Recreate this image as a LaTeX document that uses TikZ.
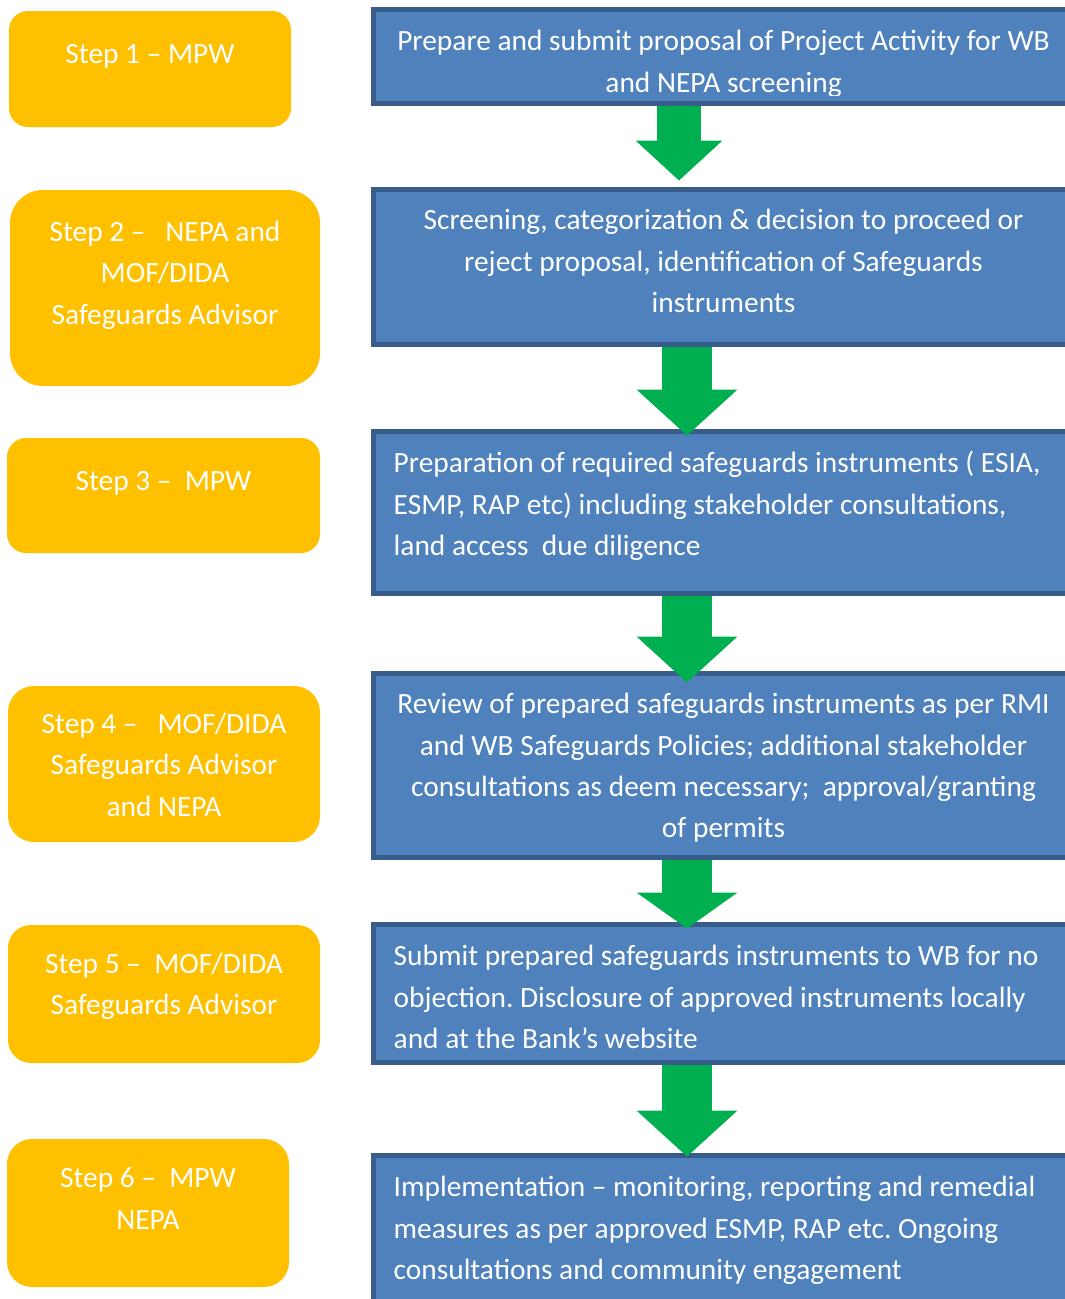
\documentclass[tikz,border=0pt]{standalone}
\usepackage{fontspec}
\setmainfont{Carlito}
\usetikzlibrary{arrows.meta}
\frenchspacing

\definecolor{stepyellow}{HTML}{FFC000}
\definecolor{boxblue}{HTML}{4F81BD}
\definecolor{boxedge}{HTML}{385D8A}
\definecolor{flowgreen}{HTML}{00B050}

\begin{document}
\begin{tikzpicture}[x=1pt,y=-1pt,font=\fontsize{29.4}{41.4}\selectfont,
    stepbox/.style={fill=stepyellow,inner sep=0pt},
    taskbox/.style={draw=boxedge,fill=boxblue,line width=5pt,inner sep=0pt,
                    minimum width=700pt},
    boxtext/.style={text=white,inner sep=0pt,anchor=north,align=center,
                    execute at begin node=\strut},
    lefttext/.style={boxtext,anchor=north west,align=left},
    flow/.style={draw=flowgreen,line width=50pt,
                 -{Triangle[width=101pt,length=46pt,line width=0pt]}}]

  \useasboundingbox (0,0) rectangle (1065,1299);

  % who does it
  \node[stepbox,minimum width=282pt,minimum height=116pt,rounded corners=19pt] (s1) at (150,69) {};
  \node[stepbox,minimum width=310pt,minimum height=196pt,rounded corners=33pt] (s2) at (165,288) {};
  \node[stepbox,minimum width=313pt,minimum height=115pt,rounded corners=19pt] (s3) at (163.5,495.5) {};
  \node[stepbox,minimum width=312pt,minimum height=156pt,rounded corners=26pt] (s4) at (164,764) {};
  \node[stepbox,minimum width=312pt,minimum height=138pt,rounded corners=23pt] (s5) at (164,994) {};
  \node[stepbox,minimum width=282pt,minimum height=148pt,rounded corners=25pt] (s6) at (148,1213) {};

  \node[boxtext] (s1t) at ([yshift=-24pt]s1.north) {Step 1 – MPW};
  \node[boxtext] (s2t) at ([yshift=-31pt]s2.north) {Step 2 –\ \ \ NEPA and\\MOF/DIDA\\Safeguards Advisor};
  \node[boxtext] (s3t) at ([yshift=-24pt]s3.north) {Step 3 –\ \ MPW};
  \node[boxtext] (s4t) at ([yshift=-27pt]s4.north) {Step 4 –\ \ \ MOF/DIDA\\Safeguards Advisor\\and NEPA};
  \node[boxtext] (s5t) at ([yshift=-28pt]s5.north) {Step 5 –\ \ MOF/DIDA\\Safeguards Advisor};
  \node[boxtext] (s6t) at ([yshift=-29pt]s6.north) {Step 6 –\ \ MPW\\NEPA};

  % what is done
  \node[taskbox,minimum height=94pt]  (t1) at (723.5,56.5) {};
  \node[taskbox,minimum height=155pt] (t2) at (723.5,267) {};
  \node[taskbox,minimum height=162pt] (t3) at (723.5,512.5) {};
  \node[taskbox,minimum height=184pt] (t4) at (723.5,765.5) {};
  \node[taskbox,minimum height=138pt] (t5) at (723.5,993.5) {};
  \node[taskbox,minimum height=182pt] (t6) at (723.5,1246.5) {};

  \begin{scope}
    \clip (t1.north west) rectangle ([yshift=11pt]t1.south east);
    \node[boxtext] (t1t) at ([yshift=-23pt]t1.north)
      {Prepare and submit proposal of Project Activity for WB\\and NEPA screening};
  \end{scope}
  \node[boxtext] (t2t) at ([yshift=-22pt]t2.north)
    {Screening, categorization \& decision to proceed or\\reject proposal, identification of Safeguards\\instruments};
  \node[lefttext] (t3t) at ([xshift=22.5pt,yshift=-22pt]t3.north west)
    {Preparation of required safeguards instruments ( ESIA,\\ESMP, RAP etc) including stakeholder consultations,\\land access\ \ due diligence};
  \node[boxtext] (t4t) at ([yshift=-22pt]t4.north)
    {Review of prepared safeguards instruments as per RMI\\and WB Safeguards Policies; additional stakeholder\\consultations as deem necessary;\ \ approval/granting\\of permits};
  \node[lefttext] (t5t) at ([xshift=22.5pt,yshift=-23pt]t5.north west)
    {Submit prepared safeguards instruments to WB for no\\objection. Disclosure of approved instruments locally\\and at the Bank’s website};
  \node[lefttext] (t6t) at ([xshift=22.5pt,yshift=-23pt]t6.north west)
    {Implementation – monitoring, reporting and remedial\\measures as per approved ESMP, RAP etc. Ongoing\\consultations and community engagement};

  % green arrows between the boxes
  \draw[flow,line width=44pt,-{Triangle[width=87pt,length=40pt,line width=0pt]}]
    ([xshift=-44.5pt]t1.south) -- ([xshift=-44.5pt,yshift=6.5pt]t2.north);
  \draw[flow] ([xshift=-36.5pt]t2.south) -- ([xshift=-36.5pt,yshift=-6.5pt]t3.north);
  \draw[flow] ([xshift=-36.5pt]t3.south) -- ([xshift=-36.5pt,yshift=-11.5pt]t4.north);
  \draw[flow,-{Triangle[width=101pt,length=36pt,line width=0pt]}]
    ([xshift=-36.5pt]t4.south) -- ([xshift=-36.5pt,yshift=-6.5pt]t5.north);
  \draw[flow] ([xshift=-36.5pt]t5.south) -- ([xshift=-36.5pt,yshift=-3.5pt]t6.north);
\end{tikzpicture}
\end{document}
